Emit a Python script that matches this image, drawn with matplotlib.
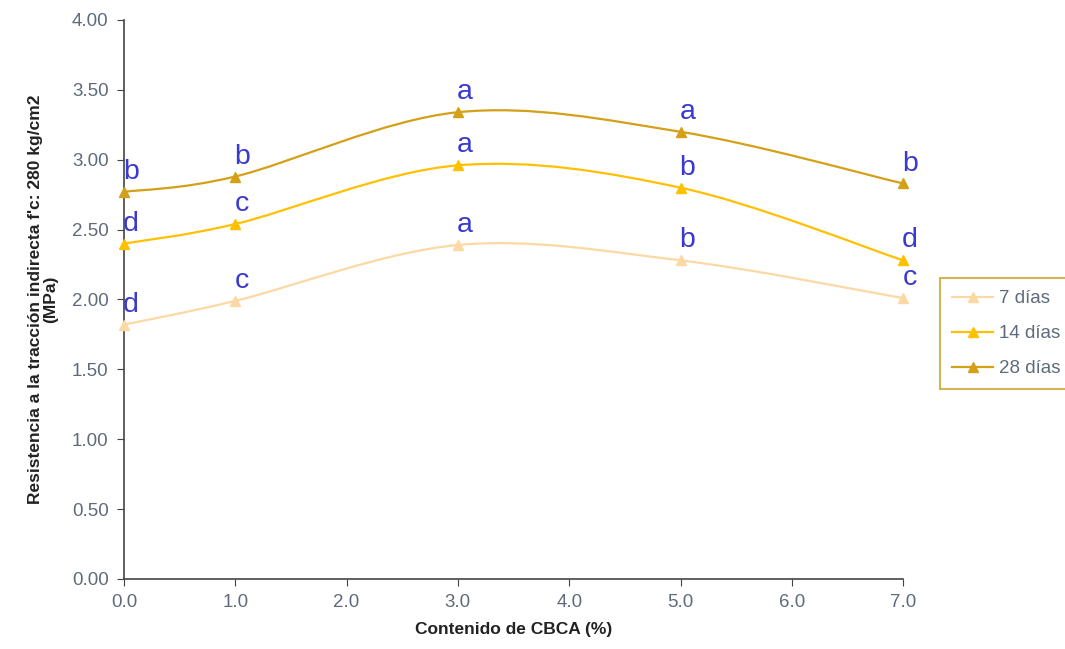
import matplotlib
matplotlib.use("Agg")
import matplotlib.pyplot as plt
import numpy as np
from matplotlib.path import Path
from matplotlib.patches import PathPatch

plt.rcParams['font.family'] = ['Liberation Sans', 'DejaVu Sans']

cbca = [0.0, 1.0, 3.0, 5.0, 7.0]
series_names = ['7 días', '14 días', '28 días']
dias7 = [1.82, 1.99, 2.39, 2.28, 2.01]
dias14 = [2.40, 2.54, 2.96, 2.80, 2.28]
dias28 = [2.77, 2.88, 3.34, 3.20, 2.83]
letters7 = ['d', 'c', 'a', 'b', 'c']
letters14 = ['d', 'c', 'a', 'b', 'd']
letters28 = ['b', 'b', 'a', 'a', 'b']

colors = ['#FCD9A4', '#FFC000', '#D4A017']
letter_color = '#3A3AD0'


def smooth_path(xs, ys):
    # Excel-like smoothed line: cubic Bezier segments through the points
    pts = np.column_stack([xs, ys])
    n = len(pts)
    verts = [pts[0]]
    codes = [Path.MOVETO]
    for i in range(n - 1):
        p0 = pts[i - 1] if i > 0 else pts[i]
        p1 = pts[i]
        p2 = pts[i + 1]
        p3 = pts[i + 2] if i + 2 < n else pts[i + 1]
        c1 = p1 + (p2 - p0) / 6.0
        c2 = p2 - (p3 - p1) / 6.0
        verts += [c1, c2, p2]
        codes += [Path.CURVE4] * 3
    return Path(verts, codes)


fig = plt.figure(figsize=(10.65, 6.49), dpi=100)
ax = fig.add_axes([0.1164, 0.1079, 0.7316, 0.8613])

all_series = [dias7, dias14, dias28]
all_letters = [letters7, letters14, letters28]
for name, vals, lets, col in zip(series_names, all_series, all_letters, colors):
    ax.add_patch(PathPatch(smooth_path(cbca, vals), fill=False, edgecolor=col,
                           lw=1.6, zorder=2))
    ax.plot(cbca, vals, linestyle='None', color=col, marker='^', markersize=7,
            zorder=3, clip_on=False)
    for x, y, t in zip(cbca, vals, lets):
        ax.annotate(t, (x, y), xytext=(5, 5), textcoords='offset points',
                    ha='center', va='bottom', fontsize=20.5, color=letter_color,
                    zorder=4, annotation_clip=False)

ax.set_xlim(0, 7)
ax.set_ylim(0, 4)
ax.set_xticks(np.arange(0, 7.5, 1.0))
ax.set_yticks(np.arange(0, 4.01, 0.5))
ax.xaxis.set_major_formatter(matplotlib.ticker.FormatStrFormatter('%.1f'))
ax.yaxis.set_major_formatter(matplotlib.ticker.FormatStrFormatter('%.2f'))
ax.tick_params(axis='both', direction='out', length=5, colors='#444444',
               labelcolor='#5F6B7A', labelsize=13.5, pad=6)
for s in ['top', 'right']:
    ax.spines[s].set_visible(False)
for s in ['left', 'bottom']:
    ax.spines[s].set_color('#444444')
    ax.spines[s].set_linewidth(1.2)

ax.set_xlabel('Contenido de CBCA (%)', fontsize=12.5, fontweight='bold',
              color='#222222', labelpad=8)
ax.set_ylabel("Resistencia a la tracción indirecta f'c: 280 kg/cm2\n(MPa)",
              fontsize=12.5, fontweight='bold', color='#222222', labelpad=10,
              linespacing=1.0)

handles = []
for name, col in zip(series_names, colors):
    h, = ax.plot([], [], color=col, marker='^', markersize=7, lw=1.6, label=name)
    handles.append(h)
leg = fig.legend(handles=handles, loc='upper left',
                 bbox_to_anchor=(0.8826, 0.5716), fontsize=13.5,
                 frameon=True, fancybox=False, handlelength=2.2,
                 borderpad=0.65, labelspacing=0.95, handletextpad=0.3,
                 borderaxespad=0.0)
leg.get_frame().set_edgecolor('#C9A227')
leg.get_frame().set_linewidth(1.5)
for t in leg.get_texts():
    t.set_color('#5F6B7A')

fig.savefig('out.png', dpi=100)
